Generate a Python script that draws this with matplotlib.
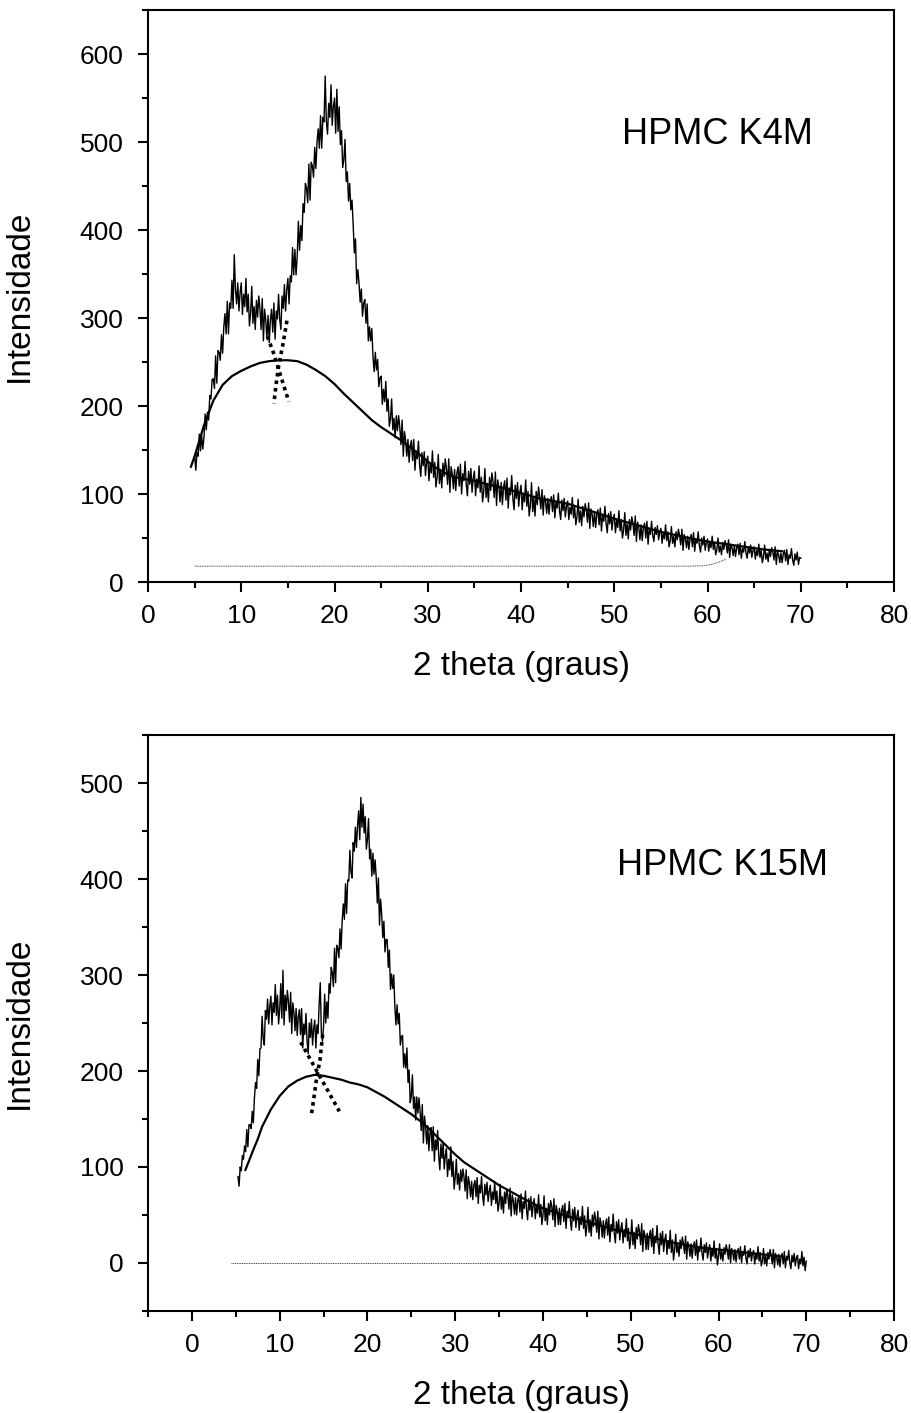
import numpy as np
import matplotlib
matplotlib.use('Agg')
import matplotlib.pyplot as plt
from matplotlib.ticker import MultipleLocator

plt.rcParams['font.family'] = ['Liberation Sans', 'DejaVu Sans']

# HPMC K4M diffractogram, 2theta 5..70 in 0.125 steps (one row per degree)
k4m_counts = [
    144, 127, 147, 143, 168, 149, 167, 151,   # 5
    164, 191, 173, 193, 184, 212, 208, 230,
    231, 220, 257, 226, 263, 261, 252, 281,
    260, 290, 305, 282, 319, 282, 317, 311,
    343, 311, 372, 333, 316, 340, 308, 329,
    340, 304, 327, 313, 345, 307, 327, 291,   # 10
    305, 336, 294, 313, 287, 320, 301, 325,
    311, 287, 322, 274, 310, 298, 277, 303,
    272, 298, 310, 284, 317, 276, 308, 299,
    327, 298, 287, 325, 311, 338, 308, 332,
    345, 316, 348, 341, 380, 349, 378, 349,   # 15
    370, 410, 377, 405, 388, 430, 420, 453,
    448, 431, 475, 434, 477, 473, 460, 494,
    470, 500, 515, 493, 530, 493, 528, 523,
    575, 523, 509, 544, 528, 565, 519, 540,
    550, 510, 560, 512, 540, 497, 513, 471,   # 20
    480, 503, 455, 466, 433, 453, 423, 434,
    406, 374, 390, 339, 355, 340, 318, 333,
    302, 317, 321, 294, 316, 274, 290, 274,
    288, 256, 239, 261, 241, 253, 222, 232,
    234, 202, 219, 205, 228, 194, 208, 177,   # 25
    185, 208, 173, 186, 164, 189, 172, 189,
    176, 156, 184, 143, 171, 161, 143, 162,
    136, 155, 161, 138, 162, 127, 149, 140,
    160, 133, 120, 147, 132, 148, 121, 136,
    143, 115, 134, 124, 149, 119, 136, 108,   # 30
    119, 145, 112, 128, 107, 135, 120, 140,
    129, 111, 140, 102, 131, 123, 106, 128,
    104, 124, 131, 109, 134, 100, 123, 115,
    137, 111, 98, 126, 111, 129, 102, 118,
    126, 98, 117, 107, 132, 102, 119, 91,     # 35
    103, 129, 96, 112, 91, 119, 104, 124,
    114, 96, 125, 87, 116, 108, 91, 113,
    88, 108, 115, 93, 118, 84, 107, 99,
    121, 95, 82, 110, 95, 113, 86, 102,
    110, 82, 101, 91, 116, 86, 103, 75,       # 40
    87, 113, 80, 96, 75, 103, 88, 108,
    97, 83, 105, 76, 98, 92, 78, 95,
    77, 92, 97, 80, 99, 73, 91, 84,
    101, 81, 71, 93, 81, 95, 74, 86,
    92, 71, 85, 77, 96, 73, 86, 65,           # 45
    74, 94, 68, 81, 64, 86, 74, 89,
    82, 68, 90, 61, 83, 77, 63, 80,
    62, 77, 82, 65, 84, 58, 76, 69,
    86, 66, 56, 78, 66, 80, 59, 71,
    77, 56, 70, 62, 81, 58, 71, 50,           # 50
    59, 79, 53, 66, 49, 71, 59, 74,
    67, 53, 75, 46, 68, 62, 48, 65,
    47, 62, 67, 50, 69, 43, 61, 54,
    69, 53, 46, 62, 54, 64, 48, 57,
    61, 44, 56, 49, 65, 47, 57, 40,           # 55
    47, 63, 44, 52, 40, 57, 48, 60,
    53, 42, 60, 36, 54, 49, 39, 52,
    37, 49, 54, 40, 56, 35, 49, 44,
    57, 41, 34, 50, 42, 52, 36, 45,
    49, 35, 45, 39, 52, 37, 45, 31,           # 60
    37, 50, 34, 41, 31, 45, 37, 47,
    42, 33, 48, 28, 43, 39, 30, 41,
    29, 39, 43, 31, 44, 27, 38, 34,
    46, 33, 27, 40, 33, 42, 28, 36,
    40, 26, 36, 30, 43, 28, 36, 22,           # 65
    29, 42, 26, 33, 23, 37, 29, 39,
    34, 25, 40, 20, 35, 31, 22, 33,
    22, 32, 36, 24, 37, 20, 31, 27,
    38, 25, 19, 32, 25, 34, 20, 28,
    27,                                       # 70
]
k4m_fit_x = [4.6, 5, 6, 7, 8, 9, 10, 11, 12, 13, 14, 15, 16, 17, 18, 19, 20,
             21, 22, 23, 24, 25, 26, 27, 28, 29, 30, 31, 32, 33, 34, 35, 36,
             38, 40, 42, 45, 48, 50, 52, 55, 58, 60, 62, 64, 66, 68]
k4m_fit_y = [131, 143, 178, 206, 224, 234, 240, 245, 249, 251, 252, 252, 251,
             247, 241, 234, 225, 214, 204, 194, 184, 176, 169, 162, 154, 146,
             137, 129, 123, 119, 117, 115, 112, 107, 101, 95, 89, 79, 72, 66,
             57, 50, 46, 43, 40, 37, 35]
k4m_peak_a = ([12.8, 13.4, 13.9, 14.5, 15.1], [279, 262, 245, 225, 205])
k4m_peak_b = ([14.9, 14.5, 14.0, 13.7, 13.5], [297, 272, 245, 222, 203])
k4m_base_x = [5, 20, 40, 58, 59.5, 60.5, 61.3, 62.0]
k4m_base_y = [18, 18, 18, 18, 18.5, 20, 23, 26]

# HPMC K15M diffractogram, 2theta 5.25..70 in 0.125 steps
k15m_counts = [
    90, 80, 100, 96, 112, 108,                # 5.25
    122, 116, 139, 121, 144, 144, 140, 158,
    146, 172, 188, 182, 212, 195, 223, 224,
    257, 234, 227, 263, 254, 275, 249, 267,
    278, 248, 271, 261, 290, 258, 279, 249,
    263, 291, 255, 305, 248, 279, 263, 284,   # 10
    272, 251, 282, 239, 271, 261, 242, 265,
    237, 257, 264, 238, 265, 224, 249, 238,
    260, 231, 218, 250, 235, 254, 227, 244,
    253, 224, 248, 239, 270, 292, 240, 231,
    246, 280, 250, 272, 255, 291, 281, 308,   # 15
    302, 288, 328, 292, 331, 328, 318, 348,
    327, 357, 374, 358, 395, 364, 399, 398,
    430, 407, 401, 438, 429, 454, 433, 456,
    471, 441, 485, 454, 478, 448, 465, 431,
    441, 463, 421, 431, 403, 427, 405, 420,   # 20
    402, 375, 401, 352, 379, 363, 339, 356,
    324, 337, 337, 308, 326, 285, 301, 286,
    300, 267, 248, 269, 249, 260, 227, 236,
    237, 204, 218, 203, 224, 188, 201, 167,
    174, 196, 161, 173, 149, 173, 156, 172,   # 25
    158, 138, 165, 125, 153, 142, 124, 143,
    117, 135, 141, 117, 142, 106, 128, 118,
    138, 111, 97, 124, 109, 125, 98, 112,
    119, 90, 108, 97, 121, 90, 106, 77,
    89, 108, 82, 93, 76, 97, 85, 98,          # 30
    90, 75, 97, 67, 90, 83, 69, 85,
    66, 81, 86, 69, 89, 62, 81, 73,
    90, 70, 60, 82, 71, 84, 64, 75,
    81, 60, 74, 66, 85, 62, 75, 54,
    62, 82, 56, 69, 52, 74, 62, 77,           # 35
    70, 56, 78, 49, 71, 65, 51, 68,
    50, 65, 70, 53, 72, 46, 64, 57,
    75, 55, 45, 67, 55, 69, 48, 60,
    67, 46, 60, 52, 71, 48, 61, 40,
    50, 70, 44, 57, 40, 62, 50, 65,           # 40
    59, 45, 67, 38, 60, 54, 40, 57,
    40, 55, 60, 43, 62, 36, 54, 47,
    64, 44, 34, 56, 44, 58, 37, 49,
    55, 34, 48, 40, 59, 36, 49, 28,
    38, 58, 32, 45, 28, 50, 38, 53,           # 45
    46, 32, 54, 25, 47, 41, 27, 44,
    26, 41, 46, 29, 48, 22, 40, 33,
    51, 31, 21, 43, 31, 45, 24, 36,
    42, 21, 35, 27, 46, 23, 36, 15,
    25, 45, 19, 32, 15, 37, 25, 40,           # 50
    33, 19, 41, 12, 34, 28, 14, 31,
    14, 29, 34, 17, 36, 10, 28, 21,
    39, 19, 9, 31, 19, 33, 12, 24,
    30, 9, 23, 15, 34, 11, 24, 3,
    14, 30, 11, 19, 7, 24, 15, 27,            # 55
    21, 10, 28, 4, 22, 17, 7, 20,
    5, 17, 22, 8, 24, 3, 17, 12,
    26, 10, 3, 19, 11, 21, 5, 14,
    19, 2, 14, 7, 23, 5, 15, -2,
    7, 20, 4, 12, 2, 16, 9, 19,               # 60
    13, 4, 19, 0, 15, 11, 3, 14,
    1, 11, 15, 4, 17, 0, 12, 8,
    18, 5, -1, 13, 6, 15, 2, 10,
    13, -1, 9, 4, 17, 2, 11, -3,
    2, 15, -1, 7, -3, 11, 4, 14,              # 65
    8, -1, 14, -5, 10, 6, -2, 9,
    -4, 6, 10, -1, 12, -5, 7, 3,
    13, 0, -6, 8, 1, 10, -3, 5,
    8, -6, 4, -1, 12, -3, 6, -8,
    2,                                        # 70
]
k15m_fit_x = [6.1, 7, 7.5, 8, 9, 10, 11, 12, 13, 14, 15, 16, 17, 18, 19, 20,
              21, 22, 23, 24, 25, 26, 27, 28, 29, 30, 31, 32, 33, 34, 35, 36,
              37, 38, 40, 42, 45, 48, 50, 52, 55, 58, 60, 62, 65, 67]
k15m_fit_y = [97, 118, 129, 142, 160, 174, 184, 190, 194, 196, 195, 193, 191,
              188, 186, 183, 178, 173, 167, 161, 155, 148, 140, 131, 122, 113,
              105, 99, 93, 87, 81, 76, 71, 66, 57, 51, 43, 35, 31, 27, 21, 16,
              14, 12, 9, 7]
k15m_peak_a = ([12.4, 13.5, 14.6, 15.7, 16.8], [230, 212, 194, 176, 158])
k15m_peak_b = ([14.9, 14.6, 14.2, 13.9, 13.6], [238, 212, 192, 172, 154])
k15m_base_x = [4.5, 66]
k15m_base_y = [0, 0]


def draw_panel(ax, counts, x0, fit, peak_a, peak_b, base, label, label_xy,
               xlim, ylim, ymax_tick):
    two_theta = np.linspace(x0, 70, len(counts))
    ax.plot(two_theta, counts, color='black', lw=1.0)
    ax.plot(fit[0], fit[1], color='black', lw=1.6)
    ax.plot(peak_a[0], peak_a[1], color='black', lw=2.6, ls=(0, (1, 1.1)))
    ax.plot(peak_b[0], peak_b[1], color='black', lw=2.6, ls=(0, (1, 1.1)))
    ax.plot(base[0], base[1], color='0.25', lw=0.7, ls=(0, (1, 0.8)))

    ax.text(label_xy[0], label_xy[1], label, fontsize=26, ha='center', va='center')

    ax.set_xlim(*xlim)
    ax.set_ylim(*ylim)
    ax.xaxis.set_major_locator(MultipleLocator(10))
    ax.xaxis.set_minor_locator(MultipleLocator(5))
    ax.set_yticks(range(0, ymax_tick + 1, 100))
    ax.yaxis.set_minor_locator(MultipleLocator(50))

    for s in ax.spines.values():
        s.set_linewidth(1.5)
    ax.tick_params(which='both', direction='out', top=False, right=False, width=1.5)
    ax.tick_params(which='major', length=7.5, labelsize=19)
    ax.tick_params(axis='x', which='major', pad=8)
    ax.tick_params(axis='y', which='major', pad=10)
    ax.tick_params(which='minor', length=4.5)

    ax.set_xlabel('2 theta (graus)', fontsize=24, labelpad=17)
    ax.set_ylabel('Intensidade', fontsize=24)
    ax.yaxis.set_label_coords(-0.152, 0.5)


def plot_xrd():
    fig = plt.figure(figsize=(9.12, 14.13), dpi=100)
    ax1 = fig.add_axes([0.1623, 0.5881, 0.818, 0.4048])
    ax2 = fig.add_axes([0.1623, 0.0722, 0.818, 0.4076])

    draw_panel(ax1, k4m_counts, 5.0, (k4m_fit_x, k4m_fit_y), k4m_peak_a, k4m_peak_b,
               (k4m_base_x, k4m_base_y), 'HPMC K4M', (61.1, 508),
               (0, 80), (0, 650), 600)
    draw_panel(ax2, k15m_counts, 5.25, (k15m_fit_x, k15m_fit_y), k15m_peak_a, k15m_peak_b,
               (k15m_base_x, k15m_base_y), 'HPMC K15M', (60.5, 414),
               (-5, 80), (-50, 550), 500)

    fig.savefig('out.png', dpi=100)


if __name__ == "__main__":
    plot_xrd()
